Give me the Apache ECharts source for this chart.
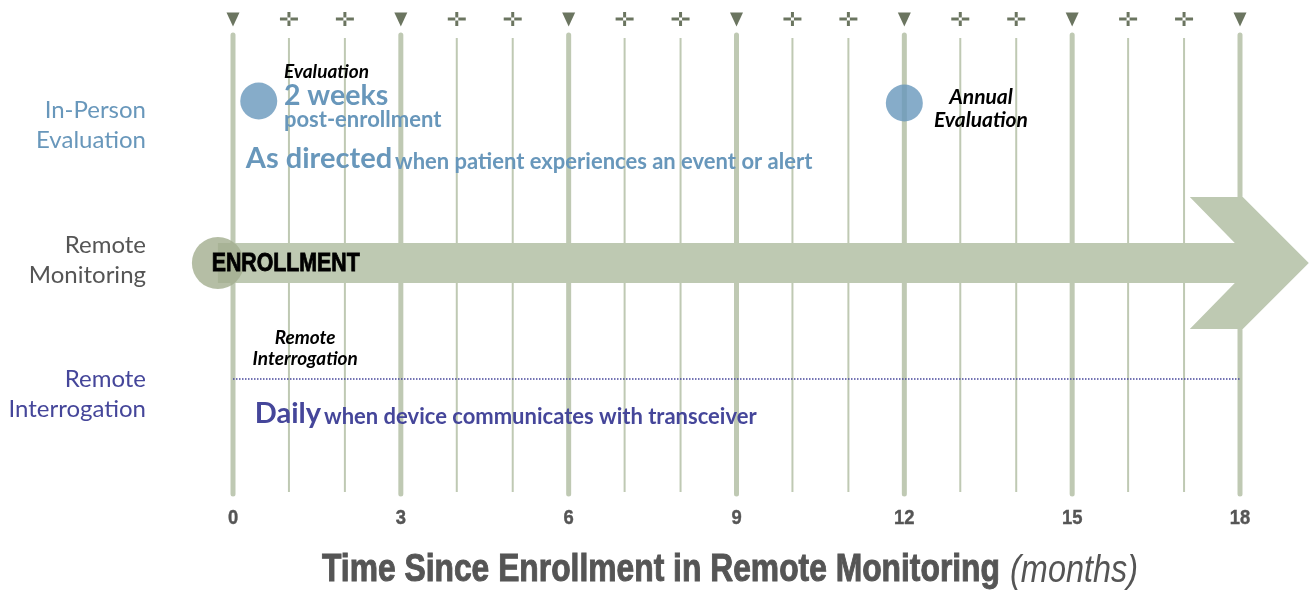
<!DOCTYPE html>
<html><head><meta charset="utf-8">
<script src="https://cdn.jsdelivr.net/npm/echarts@6/dist/echarts.min.js"></script>
<style>html,body{margin:0;padding:0;background:#fff}#c{width:1312px;height:592px}</style>
</head><body><div id="c"></div>
<script>
// ---- data ----
const months = [0,1,2,3,4,5,6,7,8,9,10,11,12,13,14,15,16,17,18];
const majorMonths = [0,3,6,9,12,15,18];
const tickLabels = ['0','3','6','9','12','15','18'];
const rowLabels = ['In-Person\nEvaluation', 'Remote\nMonitoring', 'Remote\nInterrogation'];
const evaluationMonths = [0.46, 12];
const enrollmentMonth = -0.27;
const arrowTipMonth = 19.23;
const interrogationSpan = [0, 18];
const axisTitle = ['Time Since Enrollment in Remote Monitoring', '(months)'];
const annotationTexts = [
  'Evaluation',
  '2 weeks',
  'post-enrollment',
  '{a|As directed} {b|when patient experiences an event or alert}',
  'Annual\nEvaluation',
  'Remote\nInterrogation',
  '{a|Daily} {b|when device communicates with transceiver}'
];
const enrollmentLabel = 'ENROLLMENT';

// ---- layout / style ----
const C_GRID = '#bfc9b3', C_MARK = '#6b7560', C_BAND = '#bec9b2', C_ENR = '#a3ae8e';
const C_BLUE = '#6897bb', C_PURPLE = '#45469a', C_GREY = '#555555';
const ARIAL = '"Liberation Sans",Arial,sans-serif';
const SANS = 'Lato,"Open Sans",sans-serif';
const rowY = [125, 260, 394];
const evalY = [101, 103];
const bandY = 263, interY = 379;

const mctx = document.createElement('canvas').getContext('2d');
function textWidth(text, font) { mctx.font = font; return mctx.measureText(text).width; }

const annotationLayout = [
  {x: 0.91, y: 72, align: 'left', style: {fontFamily: SANS, fontStyle: 'italic', fontWeight: 'bold', fontSize: 19, fill: '#000'}},
  {x: 0.91, y: 96, align: 'left', style: {fontFamily: SANS, fontWeight: 'bold', fontSize: 28.5, fill: C_BLUE}},
  {x: 0.91, y: 120, align: 'left', style: {fontFamily: SANS, fontWeight: 'bold', fontSize: 22, fill: C_BLUE}},
  {x: 0.23, y: 158, align: 'left', style: {fontFamily: SANS, fontWeight: 'bold', fill: C_BLUE, rich: {
      a: {fontFamily: SANS, fontWeight: 'bold', fontSize: 29, fill: C_BLUE, verticalAlign: 'bottom', lineHeight: 30},
      b: {fontFamily: SANS, fontWeight: 'bold', fontSize: 22, fill: C_BLUE, verticalAlign: 'bottom', lineHeight: 27}}}},
  {x: 13.37, y: 109, align: 'center', style: {fontFamily: SANS, fontStyle: 'italic', fontWeight: 'bold', fontSize: 21, lineHeight: 23, fill: '#000'}},
  {x: 1.29, y: 348, align: 'center', style: {fontFamily: SANS, fontStyle: 'italic', fontWeight: 'bold', fontSize: 19, lineHeight: 21, fill: '#000'}},
  {x: 0.39, y: 413, align: 'left', style: {fontFamily: SANS, fontWeight: 'bold', fill: C_PURPLE, rich: {
      a: {fontFamily: SANS, fontWeight: 'bold', fontSize: 29, fill: C_PURPLE, verticalAlign: 'bottom', lineHeight: 30},
      b: {fontFamily: SANS, fontWeight: 'bold', fontSize: 22, fill: C_PURPLE, verticalAlign: 'bottom', lineHeight: 27}}}}
];
const rowLabelColors = [C_BLUE, C_GREY, C_PURPLE];

const chart = echarts.init(document.getElementById('c'), null, {renderer: 'canvas'});

chart.setOption({
  animation: false,
  grid: {left: 233, right: 72, top: 0, bottom: 92},
  xAxis: {
    type: 'value', min: 0, max: 18, interval: 3,
    axisLine: {show: false}, axisTick: {show: false}, splitLine: {show: false},
    axisLabel: {show: false}
  },
  yAxis: {type: 'value', min: 0, max: 500, inverse: true, show: false},
  series: [
    { // vertical month lines
      type: 'custom', clip: false, silent: true, z: 1,
      data: months.map(m => [m]),
      renderItem(params, api) {
        const m = api.value(0);
        const major = majorMonths.includes(m);
        const a = api.coord([m, major ? 35 : 38]);
        const b = api.coord([m, major ? 494 : 492]);
        return {type: 'line', shape: {x1: a[0], y1: a[1], x2: b[0], y2: b[1]},
          style: {stroke: C_GRID, lineWidth: major ? 5 : 2, lineCap: major ? 'round' : 'butt'}};
      }
    },
    { // top markers
      type: 'custom', clip: false, silent: true, z: 2,
      data: months.map(m => [m]),
      renderItem(params, api) {
        const m = api.value(0);
        const p = api.coord([m, 19]);
        const x = p[0], y = p[1];
        if (majorMonths.includes(m)) {
          return {type: 'polygon', shape: {points: [[x - 6.5, y - 6.5], [x + 6.5, y - 6.5], [x, y + 7.5]]}, style: {fill: C_MARK}};
        }
        const st = {fill: C_MARK};
        return {type: 'group', children: [
          {type: 'rect', shape: {x: x - 9, y: y - 1.5, width: 7.5, height: 3}, style: st},
          {type: 'rect', shape: {x: x + 1.5, y: y - 1.5, width: 7.5, height: 3}, style: st},
          {type: 'rect', shape: {x: x - 1.5, y: y - 7, width: 3, height: 5.5}, style: st},
          {type: 'rect', shape: {x: x - 1.5, y: y + 1.5, width: 3, height: 5.5}, style: st}
        ]};
      }
    },
    { // tick labels (condensed)
      type: 'custom', clip: false, silent: true, z: 5,
      data: majorMonths.map((m, i) => [m, 518, i]),
      renderItem(params, api) {
        const p = api.coord([api.value(0), api.value(1)]);
        return {type: 'text', x: p[0], y: p[1], scaleX: 0.92,
          style: {text: tickLabels[api.value(2)], textAlign: 'center', textVerticalAlign: 'middle',
            fontFamily: ARIAL, fontWeight: 'bold', fontSize: 20, fill: C_GREY, stroke: C_GREY, lineWidth: 0.4}};
      }
    },
    { // axis title (condensed)
      type: 'custom', clip: false, silent: true, z: 5,
      data: [[1.59, 571, 0], [13.89, 571, 1]],
      renderItem(params, api) {
        const i = api.value(2);
        const p = api.coord([api.value(0), api.value(1)]);
        const font = i === 0 ? 'bold 38px "Liberation Sans"' : 'italic 38px "Liberation Sans"';
        const target = i === 0 ? 678 : 128;
        const s = target / textWidth(axisTitle[i], font);
        const st = {text: axisTitle[i], textAlign: 'left', textVerticalAlign: 'middle',
            fontFamily: ARIAL, fontWeight: i === 0 ? 'bold' : 'normal', fontStyle: i === 0 ? 'normal' : 'italic',
            fontSize: 38, fill: C_GREY};
        if (i === 0) { st.stroke = C_GREY; st.lineWidth = 1; }
        return {type: 'text', x: p[0], y: p[1], scaleX: s, style: st};
      }
    },
    { // enrollment arrow
      type: 'custom', clip: false, silent: true, z: 3,
      data: [[enrollmentMonth, arrowTipMonth]],
      renderItem(params, api) {
        const s = api.coord([api.value(0), bandY]);
        const t = api.coord([api.value(1), bandY]);
        const cy = s[1], tx = t[0];
        return {type: 'polygon', shape: {points: [
          [s[0], cy - 20], [tx - 74, cy - 20], [tx - 119, cy - 66], [tx - 66, cy - 66], [tx, cy],
          [tx - 66, cy + 66], [tx - 119, cy + 66], [tx - 74, cy + 20], [s[0], cy + 20]]},
          style: {fill: C_BAND}};
      }
    },
    { // enrollment circle
      type: 'scatter', clip: false, silent: true, z: 4,
      symbol: 'circle', symbolSize: 52, itemStyle: {color: C_ENR},
      data: [[enrollmentMonth, bandY]]
    },
    { // enrollment label
      type: 'custom', clip: false, silent: true, z: 10,
      data: [[-0.38, 264]],
      renderItem(params, api) {
        const p = api.coord([api.value(0), api.value(1)]);
        const s = 148 / textWidth(enrollmentLabel, 'bold 25px "Liberation Sans"');
        return {type: 'text', x: p[0], y: p[1], scaleX: s,
          style: {text: enrollmentLabel, textAlign: 'left', textVerticalAlign: 'middle',
            fontFamily: ARIAL, fontWeight: 'bold', fontSize: 25, fill: '#000', stroke: '#000', lineWidth: 0.8}};
      }
    },
    { // in-person evaluation circles
      type: 'scatter', clip: false, silent: true, z: 4,
      symbol: 'circle', symbolSize: 37, itemStyle: {color: C_BLUE},
      data: evaluationMonths.map((m, i) => [m, evalY[i]])
    },
    { // remote interrogation dotted line
      type: 'line', silent: true, z: 4, symbol: 'none',
      lineStyle: {type: 'dotted', color: C_PURPLE, width: 1.5},
      data: interrogationSpan.map(m => [m, interY])
    },
    { // annotations
      type: 'custom', clip: false, silent: true, z: 10,
      data: annotationTexts.map((t, i) => [annotationLayout[i].x, annotationLayout[i].y, i]),
      renderItem(params, api) {
        const i = api.value(2);
        const L = annotationLayout[i];
        const p = api.coord([api.value(0), api.value(1)]);
        return {type: 'text', x: p[0], y: p[1],
          style: Object.assign({text: annotationTexts[i], textAlign: L.align, textVerticalAlign: 'middle'}, L.style)};
      }
    },
    { // row labels
      type: 'custom', clip: false, silent: true, z: 10,
      data: rowLabels.map((t, i) => [-1.555, rowY[i], i]),
      renderItem(params, api) {
        const i = api.value(2);
        const p = api.coord([api.value(0), api.value(1)]);
        return {type: 'text', x: p[0], y: p[1],
          style: {text: rowLabels[i], textAlign: 'right', textVerticalAlign: 'middle',
            fontFamily: SANS, fontSize: 24, lineHeight: 30, fill: rowLabelColors[i]}};
      }
    }
  ]
});
</script>
</body></html>
